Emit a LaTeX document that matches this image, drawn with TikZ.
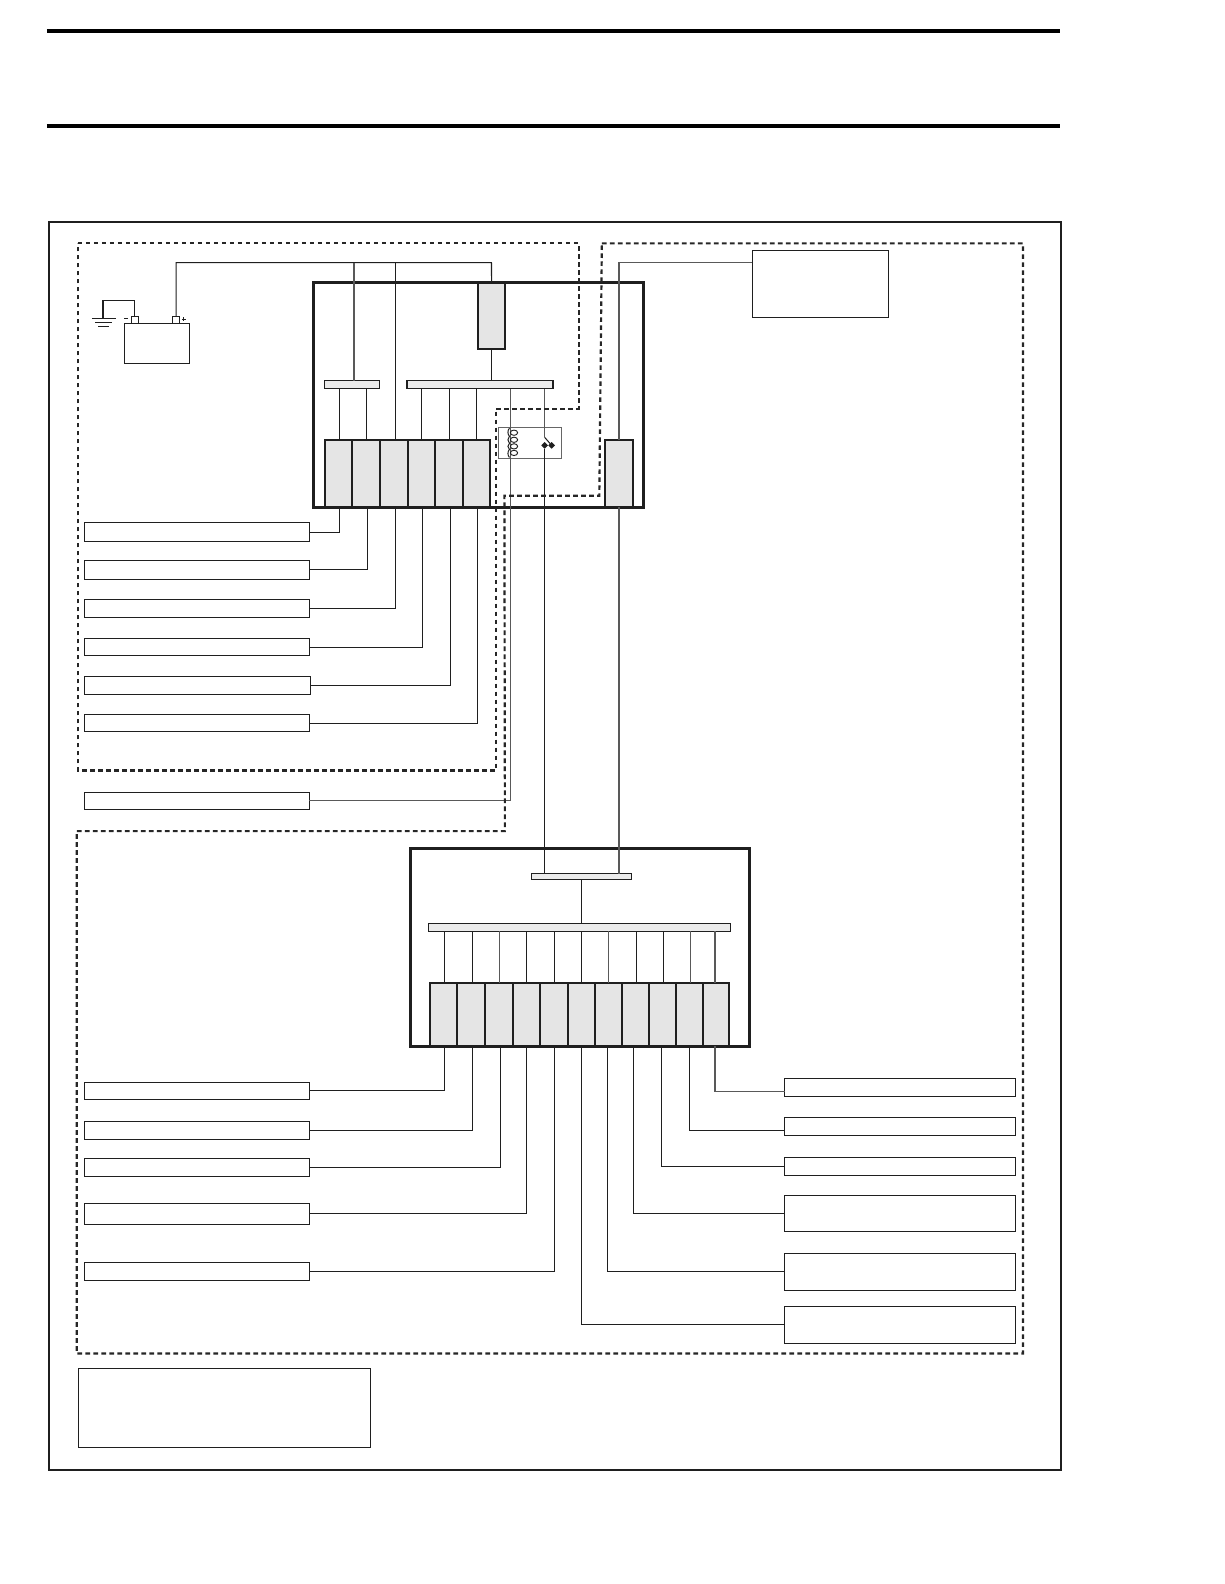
\documentclass[tikz,border=0pt]{standalone}
\usetikzlibrary{shapes.geometric}
\def\un{0.6059pt}
\tikzset{
  every node/.style={inner sep=0pt,outer sep=0pt},
  wire/.style={draw=black!88,line width=0.62pt},
  graywire/.style={draw=black!65,line width=0.7pt},
  labelbox/.style={draw=black!88,fill=white,line width=0.6pt,rectangle},
  fusebox/.style={draw=black!88,fill=black!10,line width=1.25pt,rectangle},
  busbar/.style={draw=black!88,fill=black!8,line width=0.75pt,rectangle},
  modulebox/.style={draw=black!88,line width=1.85pt,rectangle},
  relaybox/.style={draw=black!60,fill=white,line width=0.75pt,rectangle},
  zone/.style={draw=black!85,line width=1.3pt,dash pattern=on 2.8pt off 2pt},
  rulebar/.style={draw=black,line width=2.4pt},
  contact/.style={diamond,fill=black!88,minimum width=4pt,minimum height=4pt},
  termbox/.style={draw=black!88,fill=white,line width=0.6pt,rectangle}
}
\newcommand{\bx}[6][labelbox]{\node[#1,minimum width={(#5-#3)*\un},minimum height={(#6-#4)*\un}] (#2) at ({(#3+#5)/2},{(#4+#6)/2}) {};}
\begin{document}
\begin{tikzpicture}[x=0.6059pt,y=-0.6059pt]
\useasboundingbox (0,0) rectangle (1212.2,1568.6);
\fill[white] (0,0) rectangle (1212.2,1568.6);
% header rules
\draw[rulebar] (46.5,30.5) -- (1050,30.5);
\draw[rulebar] (46.5,125) -- (1050,125);
% outer frame
\bx[draw=black!88,line width=1.2pt,rectangle]{frame}{48.5}{220}{1050.3}{1455.6}
% modules
\bx[modulebox]{modA}{310.6}{280}{637.5}{502.5}
\bx[modulebox]{modB}{406.5}{840}{742.5}{1036.3}
% top-right and legend boxes
\bx{src}{745}{248}{880}{314}
\bx{legend}{78}{1355.3}{367}{1433}
% battery
\bx{bat}{123}{320.5}{187.5}{360}
\bx[termbox]{tm}{130}{313.5}{137}{320.5}
\bx[termbox]{tp}{171}{313.5}{178}{320.5}
\draw[wire] (125,315.7) ++(-2,0) -- ++(4,0);
\draw[wire] (182,316) ++(-2,0) -- ++(4,0) (182,314) -- (182,318);
% ground
\coordinate (gnd) at (102,315.5);
\draw[wire] (91,315.5) -- (114.5,315.5) (94.5,319.5) -- (111,319.5) (97.5,323.5) -- (108,323.5);
\draw[wire] (tm.north) |- (gnd |- 0,298) -- (gnd);
% bars and fuses, upper module
\bx[fusebox]{big}{473.5}{280}{500}{346}
\bx[busbar]{barA}{321}{377}{376}{385}
\bx[busbar]{barB}{403}{377}{547.5}{385}
\bx[fusebox]{fa}{321.5}{436}{349}{502.5}
\bx[fusebox]{fb}{349}{436}{376.5}{502.5}
\bx[fusebox]{fc}{376.5}{436}{403.7}{502.5}
\bx[fusebox]{fd}{403.7}{436}{430.8}{502.5}
\bx[fusebox]{fe}{430.8}{436}{458.5}{502.5}
\bx[fusebox]{ff}{458.5}{436}{485.3}{502.5}
\bx[fusebox]{fg}{599}{436}{627}{502.5}
% relay
\bx[relaybox]{relay}{493.5}{423}{556}{454}
% junctions
\coordinate (ja) at (350.5,260);
\coordinate (jb) at (391.5,260);
\coordinate (jc) at (486.7,260);
\coordinate (tap) at (505.5,385);
\coordinate (swa) at (539.3,433);
\node[contact] (dl) at (539.3,441) {};
\node[contact] (dr) at (546.3,441) {};
% upper wiring
\draw[wire] (tp.north) |- (jc) -- (big.north);
\draw[graywire] (ja) -- (ja |- barA.north);
\draw[wire] (jb) -- (jb |- fc.north);
\draw[wire] (big.south) -- (big.south |- barB.north);
\draw[wire] ([xshift=0.6pt]fa.north) -- ([xshift=0.6pt]fa.north |- barA.south);
\draw[wire] ([xshift=0.4pt]fb.north) -- ([xshift=0.4pt]fb.north |- barA.south);
\draw[wire] (fd.north) -- (fd.north |- barB.south);
\draw[wire] (fe.north) -- (fe.north |- barB.south);
\draw[wire] (ff.north) -- (ff.north |- barB.south);
\draw[graywire] (swa) -- (swa |- barB.south);
\draw[wire] (swa) -- (dr);
\draw[graywire] (src.west |- 0,260) -| (fg.north);
% left labels
\bx{la}{83.5}{517.5}{306.3}{535.8}
\bx{lb}{83.5}{555}{306.3}{573.5}
\bx{lc}{83.5}{593.3}{306.3}{611.3}
\bx{ld}{83.5}{632}{306.3}{649.5}
\bx{le}{83.5}{670}{307}{688}
\bx{lf}{83.5}{707.3}{306.3}{724.8}
\bx{lg}{83.5}{784.3}{306.3}{801.3}
\draw[wire] ([xshift=0.7pt]fa.south) |- ([yshift=-0.4pt]la.east);
\draw[wire] ([xshift=0.6pt]fb.south) |- ([yshift=0.2pt]lb.east);
\draw[wire] ([xshift=0.9pt]fc.south) |- (lc.east);
\draw[wire] ([xshift=0.6pt]fd.south) |- (ld.east);
\draw[wire] ([xshift=0.8pt]fe.south) |- (le.east);
\draw[wire] ([xshift=0.4pt]ff.south) |- (lf.east);
\draw[graywire] (tap) |- (lg.east);
% coil
\draw[black!88,line width=0.6pt] (504.5,424) .. controls (502.5,426) and (502.5,430) .. (504.5,432) .. controls (502.5,434) and (502.5,437) .. (504.5,439) .. controls (502.5,441) and (502.5,443) .. (504.5,445) .. controls (502.5,447) and (502.5,451) .. (504.5,453);
\foreach \cy in {428.5,435.5,442,448.5} \draw[black!88,line width=0.55pt] (509,\cy) ellipse [x radius=3.6,y radius=2.6];
% lower module
\bx[busbar]{barC}{526}{865}{625.2}{871}
\bx[busbar]{barD}{424}{914.7}{723.6}{922.3}
\bx[fusebox]{ga}{425.8}{973}{452.9}{1036.3}
\bx[fusebox]{gb}{452.9}{973}{480.6}{1036.3}
\bx[fusebox]{gc}{480.6}{973}{508.3}{1036.3}
\bx[fusebox]{gd}{508.3}{973}{534.8}{1036.3}
\bx[fusebox]{ge}{534.8}{973}{562.5}{1036.3}
\bx[fusebox]{gf}{562.5}{973}{589.2}{1036.3}
\bx[fusebox]{gg}{589.2}{973}{616}{1036.3}
\bx[fusebox]{gh}{616}{973}{642.7}{1036.3}
\bx[fusebox]{gi}{642.7}{973}{669.7}{1036.3}
\bx[fusebox]{gj}{669.7}{973}{696.2}{1036.3}
\bx[fusebox]{gk}{696.2}{973}{722.2}{1036.3}
\draw[wire] (dl) -- (dl |- barC.north);
\draw[graywire] (fg.south) -- (fg.south |- barC.north);
\draw[wire] (barC.south) -- (barC.south |- barD.north);
\foreach \g/\c/\s in {ga/wire/0.4,gb/wire/0.5,gc/graywire/0,gd/wire/0,ge/wire/0,gf/wire/0,gg/graywire/0,gh/wire/0.4,gi/wire/0.4,gj/graywire/0.3,gk/graywire/-0.7}
  \draw[\c] ([xshift=\s pt]\g.north) -- ([xshift=\s pt]\g.north |- barD.south);
% lower labels
\bx{ma}{83.5}{1071.5}{306.3}{1089}
\bx{mb}{83.5}{1110.5}{306.3}{1128}
\bx{mc}{83.5}{1147.3}{306.3}{1165.3}
\bx{md}{83.5}{1191.3}{306.3}{1212.3}
\bx{me}{83.5}{1250.3}{306.3}{1268.3}
\bx{ra}{777}{1067.6}{1005.5}{1085.6}
\bx{rb}{777}{1106.5}{1005.5}{1124.5}
\bx{rc}{777}{1146.3}{1005.5}{1164.5}
\bx{rd}{777}{1183.6}{1005.5}{1220}
\bx{re}{777}{1241.3}{1005.5}{1277.5}
\bx{rf}{777}{1293.6}{1005.5}{1330}
\draw[wire] ([xshift=0.6pt]ga.south) |- (ma.east);
\draw[wire] ([xshift=0.6pt]gb.south) |- (mb.east);
\draw[wire] ([xshift=0.6pt]gc.south) |- (mc.east);
\draw[wire] (gd.south) |- (md.east);
\draw[wire] (ge.south) |- (me.east);
\draw[wire] (gf.south) |- (rf.west);
\draw[wire] ([xshift=-0.8pt]gg.south) |- (re.west);
\draw[wire] ([xshift=-1.5pt]gh.south) |- (rd.west);
\draw[wire] ([xshift=-0.7pt]gi.south) |- (rc.west);
\draw[wire] (gj.south) |- ([yshift=-2.2pt]rb.west);
\draw[graywire] ([xshift=-0.7pt]gk.south) |- ([yshift=-2.5pt]ra.west);
% dashed zones
\draw[zone] (77,241) -- (573,241) -- (573,404.7) -- (491,404.7) -- (491,763) -- (77,763) -- cycle;
\draw[zone] (596,241) -- (1013,241) -- (1013,1340.3) -- (76,1340.3) -- (76,823) -- (500,823) -- (499.5,491) -- (593.5,491) -- cycle;
\end{tikzpicture}
\end{document}
